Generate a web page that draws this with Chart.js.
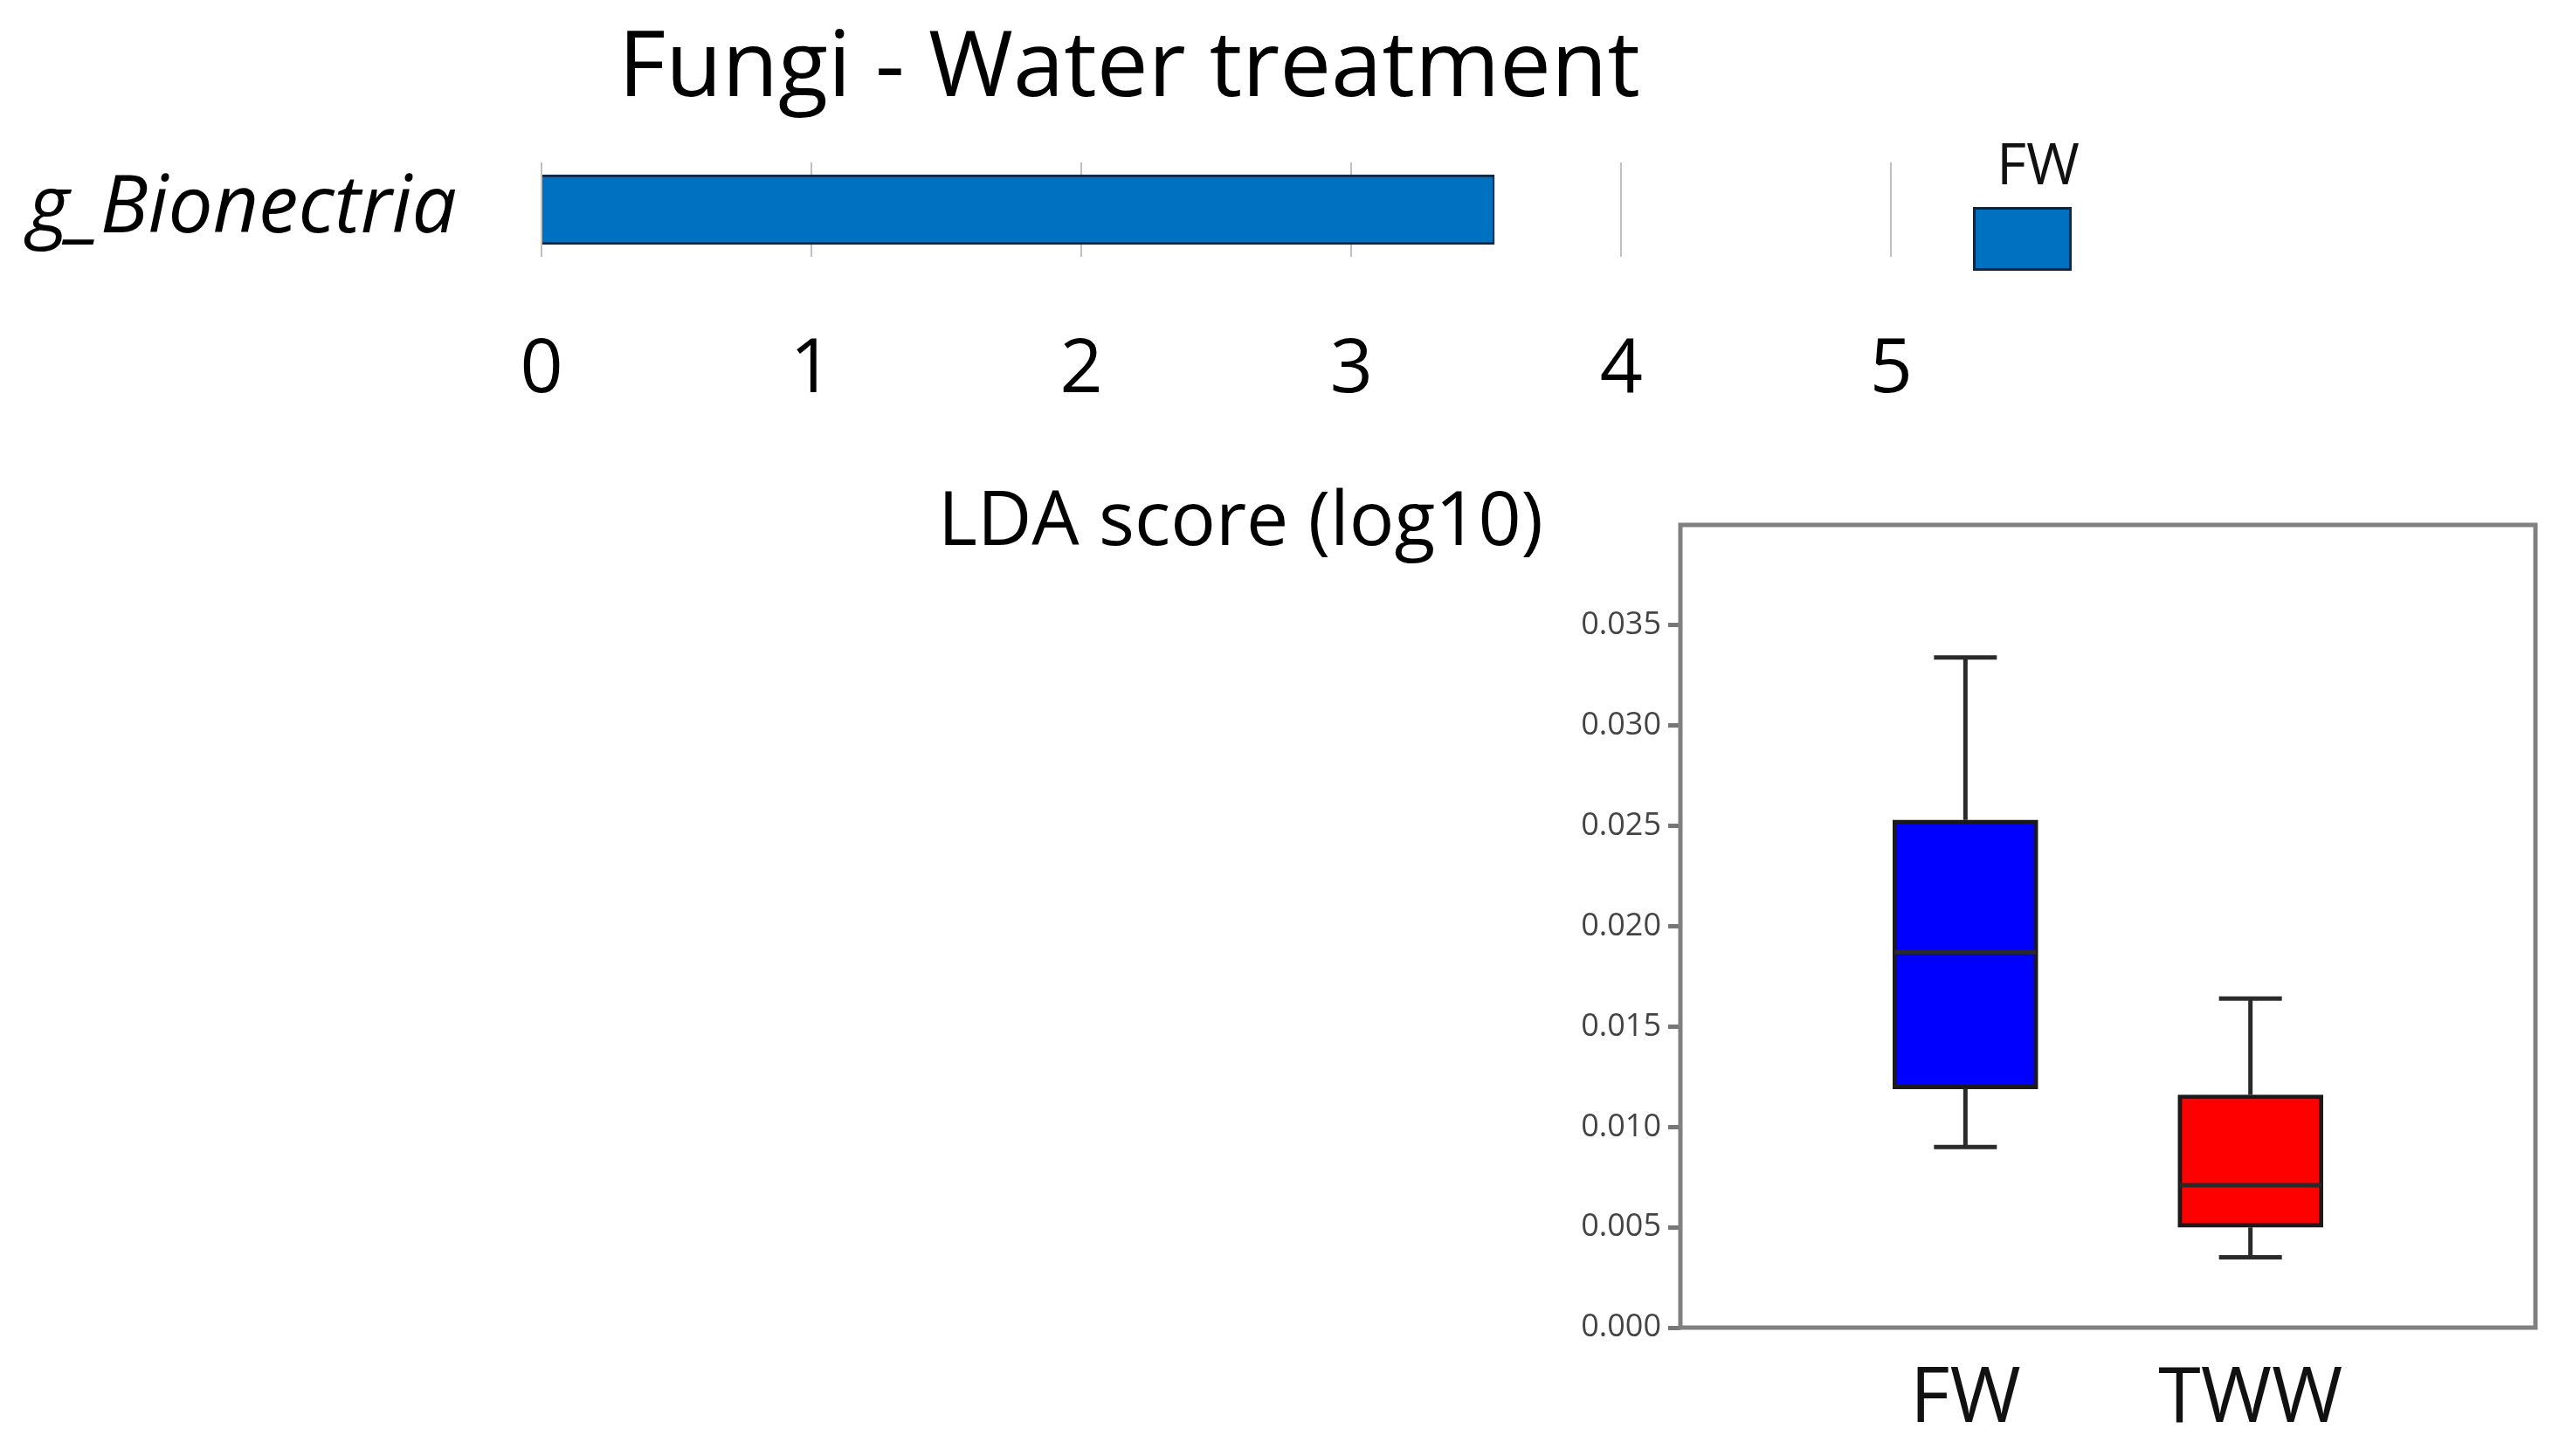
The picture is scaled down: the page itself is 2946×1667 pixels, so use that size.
<!DOCTYPE html>
<html>
<head>
<meta charset="utf-8">
<script src="https://cdn.jsdelivr.net/npm/chart.js@4/dist/chart.umd.min.js"></script>
<style>
  html, body { margin: 0; padding: 0; background: #ffffff; }
  body { width: 2946px; height: 1667px; position: relative; overflow: hidden; }
  canvas { position: absolute; }
  #lda { left: 0; top: 0; width: 2586px; height: 700px; }
  #box { left: 1800px; top: 580px; width: 1146px; height: 1087px; }
</style>
</head>
<body>
<canvas id="lda" width="2586" height="700"></canvas>
<canvas id="box" width="1146" height="1087"></canvas>
<script>
// ---- data ----
const chartTitle = 'Fungi - Water treatment';
const ldaFeatures = ['g_Bionectria'];
const ldaGroups = ['FW'];
const ldaScores = [3.53];
const ldaAxisTitle = 'LDA score (log10)';

const boxCategories = ['FW', 'TWW'];
const boxMin = [0.0090, 0.0035];
const boxQ1 = [0.0119, 0.0050];
const boxMedian = [0.0187, 0.0071];
const boxQ3 = [0.0253, 0.0116];
const boxMax = [0.0334, 0.0164];
const boxColors = ['#0000FF', '#FF0000'];

const FONT = "'Open Sans', 'DejaVu Sans', sans-serif";

// ---- LDA bar chart ----
const ldaDecor = {
  id: 'ldaDecor',
  afterDraw(chart) {
    const ctx = chart.ctx;
    const ca = chart.chartArea;
    ctx.save();
    // main title, centred on the figure block
    ctx.fillStyle = '#000';
    ctx.font = '105px ' + FONT;
    ctx.textAlign = 'center';
    ctx.textBaseline = 'middle';
    ctx.fillText(chartTitle, chart.width / 2, 80);
    // legend
    const bx = ca.right + 38, by = 237, bw = 113, bh = 73;
    ctx.fillStyle = '#0070C0';
    ctx.fillRect(bx, by, bw, bh);
    ctx.strokeStyle = '#10263d';
    ctx.lineWidth = 3;
    ctx.strokeRect(bx + 1.5, by + 1.5, bw - 3, bh - 3);
    ctx.fillStyle = '#111';
    ctx.font = '66px ' + FONT;
    ctx.fillText(ldaGroups[0], bx + bw / 2 + 18, 192);
    ctx.restore();
  }
};

new Chart(document.getElementById('lda'), {
  type: 'bar',
  data: {
    labels: ldaFeatures,
    datasets: [{
      label: ldaGroups[0],
      data: ldaScores,
      backgroundColor: '#0070C0',
      borderColor: '#10263d',
      borderWidth: { top: 3, bottom: 3, left: 0, right: 2 },
      barThickness: 80
    }]
  },
  options: {
    indexAxis: 'y',
    responsive: false,
    animation: false,
    devicePixelRatio: 1,
    layout: { padding: { left: 0, right: 365, top: 186, bottom: 0 } },
    plugins: {
      legend: { display: false },
      tooltip: { enabled: false },
      title: { display: false }
    },
    scales: {
      y: {
        type: 'category',
        grid: { display: false, drawTicks: false },
        border: { display: false },
        ticks: {
          color: '#000',
          padding: 97,
          font: { family: FONT, size: 91, style: 'italic' }
        },
        afterFit(s) { s.width = 620; }
      },
      x: {
        type: 'linear',
        min: 0,
        max: 5.18,
        border: { display: false },
        grid: { color: '#c0c0c0', lineWidth: 2, drawTicks: false },
        ticks: {
          stepSize: 1,
          includeBounds: false,
          color: '#000',
          padding: 79,
          font: { family: FONT, size: 86 }
        },
        title: {
          display: true,
          text: ldaAxisTitle,
          color: '#000',
          font: { family: FONT, size: 86 },
          padding: { top: 0, bottom: 49 }
        },
        afterFit(s) { s.height = 406; }
      }
    }
  },
  plugins: [ldaDecor]
});

// ---- box plot ----
const boxLabels = [''].concat(boxCategories, ['']);
const boxData = [null].concat(boxCategories.map((c, i) => [boxQ1[i], boxQ3[i]]), [null]);
const boxFill = [null].concat(boxColors, [null]);

const whiskers = {
  id: 'whiskers',
  afterDatasetsDraw(chart) {
    const ctx = chart.ctx;
    const xs = chart.scales.x, ys = chart.scales.y;
    ctx.save();
    ctx.strokeStyle = '#2a2a2a';
    ctx.lineWidth = 5;
    ctx.lineCap = 'butt';
    boxCategories.forEach((c, i) => {
      const x = xs.getPixelForValue(i + 1);
      const yMin = ys.getPixelForValue(boxMin[i]);
      const yMax = ys.getPixelForValue(boxMax[i]);
      const yQ1 = ys.getPixelForValue(boxQ1[i]);
      const yQ3 = ys.getPixelForValue(boxQ3[i]);
      const yMed = ys.getPixelForValue(boxMedian[i]);
      const cap = 36, half = 81;
      ctx.beginPath();
      ctx.moveTo(x, yQ3); ctx.lineTo(x, yMax);
      ctx.moveTo(x - cap, yMax); ctx.lineTo(x + cap, yMax);
      ctx.moveTo(x, yQ1); ctx.lineTo(x, yMin);
      ctx.moveTo(x - cap, yMin); ctx.lineTo(x + cap, yMin);
      ctx.moveTo(x - half, yMed); ctx.lineTo(x + half, yMed);
      ctx.stroke();
    });
    ctx.restore();
  },
  afterDraw(chart) {
    const ctx = chart.ctx;
    const ca = chart.chartArea;
    ctx.save();
    ctx.strokeStyle = '#808080';
    ctx.lineWidth = 5;
    ctx.strokeRect(ca.left, ca.top, ca.right - ca.left, ca.bottom - ca.top);
    ctx.restore();
  }
};

new Chart(document.getElementById('box'), {
  type: 'bar',
  data: {
    labels: boxLabels,
    datasets: [{
      data: boxData,
      backgroundColor: boxFill,
      borderColor: '#1a1a1a',
      borderWidth: 5,
      borderSkipped: false,
      barThickness: 166
    }]
  },
  options: {
    responsive: false,
    animation: false,
    devicePixelRatio: 1,
    layout: { padding: { left: 0, right: 43, top: 21, bottom: 0 } },
    plugins: {
      legend: { display: false },
      tooltip: { enabled: false },
      title: { display: false }
    },
    scales: {
      x: {
        type: 'category',
        offset: false,
        grid: { display: false, drawTicks: false },
        border: { display: false },
        ticks: {
          autoSkip: false,
          maxRotation: 0,
          color: '#111',
          padding: 30,
          font: { family: FONT, size: 88 }
        },
        afterFit(s) { s.height = 147; s.paddingLeft = 0; s.paddingRight = 0; }
      },
      y: {
        min: 0,
        max: 0.04,
        border: { display: false },
        grid: {
          drawOnChartArea: false,
          drawTicks: true,
          tickLength: 14,
          tickWidth: 5,
          tickColor: (c) => (c.tick && c.tick.value > 0.0375 ? 'rgba(0,0,0,0)' : '#777')
        },
        ticks: {
          stepSize: 0.005,
          color: '#444',
          padding: 8,
          font: { family: FONT, size: 36 },
          callback: (v) => (v > 0.0375 ? '' : Number(v).toFixed(3))
        },
        afterFit(s) { s.width = 124; s.paddingTop = 0; s.paddingBottom = 0; }
      }
    }
  },
  plugins: [whiskers]
});
</script>
</body>
</html>
